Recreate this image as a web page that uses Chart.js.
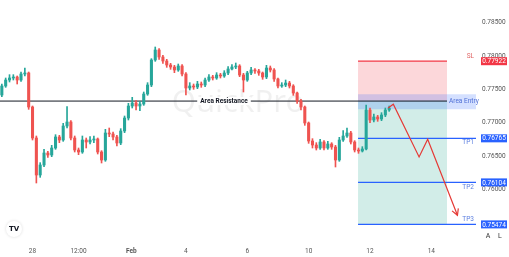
<!DOCTYPE html>
<html>
<head>
<meta charset="utf-8">
<script src="https://cdn.jsdelivr.net/npm/chart.js@4.4.0/dist/chart.umd.min.js"></script>
<style>
    html, body { margin: 0; padding: 0; background: #fff; }
    canvas { display: block; }
</style>
</head>
<body>
<canvas id="chart" width="509" height="257"></canvas>
<script>
// Time axis: days (8 candles per day), tick labels as on the original
const candleStep = 0.125;
const xTickValues = [1, 2.5, 4.22, 6, 8, 10, 12, 14];
const xTickLabels = ['28', '12:00', 'Feb', '4', '6', '10', '12', '14'];

// Candles
const firstOpen = 0.77415;
const closes = [
    0.77550, 0.77640, 0.77670, 0.77685, 0.77640, 0.77730, 0.77745, 0.77235, 0.76770, 0.76215,
    0.76365, 0.76545, 0.76515, 0.76620, 0.76785, 0.76740, 0.76950, 0.77010, 0.76770, 0.76590,
    0.76560, 0.76740, 0.76710, 0.76740, 0.76755, 0.76560, 0.76440, 0.76845, 0.76830, 0.76785,
    0.76695, 0.76875, 0.77070, 0.77250, 0.77295, 0.77250, 0.77280, 0.77430, 0.77565, 0.77940,
    0.78090, 0.77985, 0.77925, 0.77865, 0.77835, 0.77790, 0.77850, 0.77730, 0.77520, 0.77550,
    0.77535, 0.77580, 0.77565, 0.77640, 0.77685, 0.77670, 0.77715, 0.77700, 0.77745, 0.77805,
    0.77835, 0.77850, 0.77715, 0.77640, 0.77745, 0.77790, 0.77775, 0.77745, 0.77685, 0.77820,
    0.77790, 0.77655, 0.77550, 0.77565, 0.77595, 0.77550, 0.77445, 0.77325, 0.77235, 0.76995,
    0.76725, 0.76665, 0.76620, 0.76710, 0.76620, 0.76680, 0.76635, 0.76440, 0.76740, 0.76800,
    0.76845, 0.76710, 0.76590, 0.76575, 0.76605, 0.77190, 0.77040, 0.77085, 0.77055, 0.77115,
    0.77190, 0.77220
];
const highs = [
    0.77580, 0.77670, 0.77720, 0.77720, 0.77700, 0.77760, 0.77820, 0.77760, 0.77250, 0.76800,
    0.76400, 0.76600, 0.76570, 0.76660, 0.76820, 0.76810, 0.76990, 0.77240, 0.77030, 0.76800,
    0.76620, 0.76800, 0.76770, 0.76790, 0.76800, 0.76770, 0.76580, 0.76900, 0.76920, 0.76860,
    0.76810, 0.76910, 0.77100, 0.77290, 0.77380, 0.77330, 0.77320, 0.77460, 0.77600, 0.77960,
    0.78135, 0.78110, 0.78010, 0.77950, 0.77890, 0.77860, 0.77880, 0.77870, 0.77750, 0.77600,
    0.77580, 0.77620, 0.77610, 0.77670, 0.77720, 0.77710, 0.77750, 0.77740, 0.77780, 0.77840,
    0.77870, 0.77895, 0.77870, 0.77740, 0.77770, 0.77830, 0.77810, 0.77800, 0.77760, 0.77860,
    0.77850, 0.77810, 0.77670, 0.77600, 0.77640, 0.77620, 0.77570, 0.77460, 0.77350, 0.77250,
    0.77010, 0.76760, 0.76700, 0.76750, 0.76730, 0.76720, 0.76700, 0.76660, 0.76780, 0.76880,
    0.76920, 0.76870, 0.76730, 0.76620, 0.76640, 0.77265, 0.77220, 0.77130, 0.77110, 0.77150,
    0.77220, 0.77250
];
const lows = [
    0.77390, 0.77530, 0.77610, 0.77640, 0.77580, 0.77620, 0.77700, 0.77200, 0.76740, 0.76095,
    0.76180, 0.76340, 0.76480, 0.76490, 0.76600, 0.76700, 0.76720, 0.76920, 0.76740, 0.76560,
    0.76520, 0.76540, 0.76620, 0.76680, 0.76700, 0.76530, 0.76395, 0.76420, 0.76790, 0.76740,
    0.76650, 0.76670, 0.76850, 0.77040, 0.77220, 0.77190, 0.77180, 0.77260, 0.77410, 0.77540,
    0.77920, 0.77950, 0.77890, 0.77830, 0.77800, 0.77750, 0.77770, 0.77700, 0.77415, 0.77490,
    0.77500, 0.77510, 0.77530, 0.77540, 0.77620, 0.77640, 0.77650, 0.77670, 0.77680, 0.77720,
    0.77790, 0.77810, 0.77690, 0.77460, 0.77620, 0.77720, 0.77740, 0.77710, 0.77650, 0.77660,
    0.77760, 0.77620, 0.77520, 0.77530, 0.77540, 0.77520, 0.77410, 0.77290, 0.77190, 0.76960,
    0.76690, 0.76620, 0.76590, 0.76600, 0.76590, 0.76600, 0.76600, 0.76335, 0.76420, 0.76720,
    0.76780, 0.76680, 0.76560, 0.76540, 0.76560, 0.76590, 0.77000, 0.77010, 0.77020, 0.77030,
    0.77090, 0.77170
];

// Trade setup levels
const resistancePrice = 0.77324;
const entryPrice = 0.77330;
const entryTop = 0.77425;
const entryBottom = 0.77200;
const slPrice = 0.77922;
const tpPrices = [0.76765, 0.76104, 0.75474];
const tpNames = ['TP1', 'TP2', 'TP3'];
const zoneStart = 11.61;
const zoneEnd = 14.51;

// Projected path (red arrow)
const projX = [12.59, 12.76, 13.60, 13.88, 14.85];
const projY = [0.77220, 0.77276, 0.76485, 0.76751, 0.75610];

const X_MIN = -0.06, X_MAX = 15.455;
const Y_MIN = 0.75195, Y_MAX = 0.7884;
const UP = '#26a69a', DOWN = '#ef5350', BLUE = '#2962ff';

const opens = [firstOpen, ...closes.slice(0, -1)];
const candleColors = closes.map((c, i) => c >= opens[i] ? UP : DOWN);
const wickData = closes.map((c, i) => ({ x: i * candleStep, y: [lows[i], highs[i]] }));
const bodyData = closes.map((c, i) => ({ x: i * candleStep, y: [opens[i], c] }));
const tagPrices = [slPrice, ...tpPrices];

function hLine(price, x0, x1) {
    return [{ x: x0, y: price }, { x: x1, y: price }];
}

const lineBase = { type: 'line', pointRadius: 0, tension: 0 };

const datasets = [
    // stop-loss zone
    { ...lineBase, data: hLine(slPrice, zoneStart, zoneEnd), borderColor: '#f23645', borderWidth: 1.2,
      backgroundColor: 'rgba(242, 54, 69, 0.2)', fill: { value: entryPrice }, order: 12 },
    // target zone
    { ...lineBase, data: hLine(entryPrice, zoneStart, zoneEnd), borderColor: 'rgba(0,0,0,0)', borderWidth: 1,
      backgroundColor: 'rgba(8, 153, 129, 0.18)', fill: { value: tpPrices[2] }, order: 11 },
    // entry box
    { ...lineBase, data: hLine(entryTop, zoneStart, X_MAX), borderColor: 'rgba(0,0,0,0)', borderWidth: 1,
      backgroundColor: 'rgba(41, 98, 255, 0.2)', fill: { value: entryBottom }, order: 10 },
    // resistance
    { ...lineBase, data: hLine(resistancePrice, X_MIN, zoneEnd), borderColor: '#131722', borderWidth: 1, fill: false, order: 9 },
    ...tpPrices.map(p => ({ ...lineBase, data: hLine(p, zoneStart, X_MAX), borderColor: BLUE, borderWidth: 1.2, fill: false, order: 8 })),
    // candles
    { type: 'bar', data: wickData, backgroundColor: candleColors, barThickness: 1, grouped: false, order: 3 },
    { type: 'bar', data: bodyData, backgroundColor: candleColors, barThickness: 2.4, minBarLength: 1, grouped: false, order: 2 },
    // projection
    { ...lineBase, data: projX.map((x, i) => ({ x: x, y: projY[i] })), borderColor: '#e53935', borderWidth: 1.2, fill: false, order: 1 }
];
const projIndex = datasets.length - 1;

const overlay = {
    id: 'overlay',
    beforeDatasetsDraw(chart) {
        const ctx = chart.ctx;
        ctx.save();
        ctx.fillStyle = 'rgba(0, 0, 0, 0.06)';
        ctx.font = '31px "Noto Sans"';
        ctx.textAlign = 'center';
        ctx.textBaseline = 'middle';
        ctx.fillText('QuickPro', 238, 103);
        ctx.restore();
    },
    afterDatasetsDraw(chart) {
        const ctx = chart.ctx, xs = chart.scales.x, ys = chart.scales.y;
        ctx.save();
        // resistance label
        const ry = ys.getPixelForValue(resistancePrice);
        ctx.font = 'bold 6.5px Roboto';
        ctx.textBaseline = 'middle';
        ctx.textAlign = 'center';
        const lbl = 'Area Resistance';
        const w = ctx.measureText(lbl).width;
        ctx.fillStyle = '#fff';
        ctx.fillRect(224 - w / 2 - 3, ry - 4, w + 6, 8);
        ctx.fillStyle = '#131722';
        ctx.fillText(lbl, 224, ry);

        // zone labels
        ctx.font = '6.5px Roboto';
        ctx.textAlign = 'left';
        ctx.fillStyle = '#4f6fd6';
        ctx.fillText('Area Entry', xs.getPixelForValue(zoneEnd) + 2, ys.getPixelForValue((entryTop + entryBottom) / 2));
        ctx.textAlign = 'right';
        const rx = xs.right - 2;
        ctx.fillStyle = '#e06666';
        ctx.fillText('SL', rx, ys.getPixelForValue(slPrice) - 5);
        ctx.fillStyle = '#5b7fe0';
        const offs = [4, 5, -5];
        tpPrices.forEach((p, i) => ctx.fillText(tpNames[i], rx, ys.getPixelForValue(p) + offs[i]));

        // arrow head
        const pts = chart.getDatasetMeta(projIndex).data;
        const p1 = pts[pts.length - 2], p2 = pts[pts.length - 1];
        const ang = Math.atan2(p2.y - p1.y, p2.x - p1.x);
        ctx.strokeStyle = '#e53935';
        ctx.lineWidth = 1.2;
        ctx.beginPath();
        ctx.moveTo(p2.x - 7 * Math.cos(ang - 0.5), p2.y - 7 * Math.sin(ang - 0.5));
        ctx.lineTo(p2.x, p2.y);
        ctx.lineTo(p2.x - 7 * Math.cos(ang + 0.5), p2.y - 7 * Math.sin(ang + 0.5));
        ctx.stroke();
        ctx.restore();
    },
    afterDraw(chart) {
        const ctx = chart.ctx, ys = chart.scales.y;
        ctx.save();
        // price tags on the axis
        const tag = (price, color) => {
            const y = ys.getPixelForValue(price);
            ctx.fillStyle = color;
            ctx.fillRect(481, y - 4, 26, 8);
            ctx.fillStyle = '#fff';
            ctx.font = '6.5px Roboto';
            ctx.textAlign = 'center';
            ctx.textBaseline = 'middle';
            ctx.fillText(price.toFixed(5), 494, y + 0.5);
        };
        tag(slPrice, '#f23645');
        tpPrices.forEach(p => tag(p, BLUE));

        ctx.fillStyle = '#333';
        ctx.font = '7px Roboto';
        ctx.textAlign = 'center';
        ctx.textBaseline = 'middle';
        ctx.fillText('A', 488, 236);
        ctx.fillText('L', 500, 236);

        // TradingView logo
        ctx.shadowColor = 'rgba(0,0,0,0.15)';
        ctx.shadowBlur = 3;
        ctx.fillStyle = '#fff';
        ctx.beginPath();
        ctx.arc(14, 229, 8, 0, Math.PI * 2);
        ctx.fill();
        ctx.shadowBlur = 0;
        ctx.fillStyle = '#131722';
        ctx.font = 'bold 7px "DejaVu Sans"';
        ctx.fillText('TV', 14, 229.5);
        ctx.restore();
    }
};

new Chart(document.getElementById('chart'), {
    type: 'bar',
    data: { datasets: datasets },
    options: {
        responsive: false,
        animation: false,
        devicePixelRatio: 1,
        layout: { padding: 0 },
        plugins: { legend: { display: false }, tooltip: { enabled: false } },
        scales: {
            x: {
                type: 'linear',
                min: X_MIN,
                max: X_MAX,
                offset: false,
                grid: { display: false, drawTicks: false },
                border: { display: false },
                afterBuildTicks: axis => { axis.ticks = xTickValues.map(v => ({ value: v })); },
                afterFit: axis => {
                    axis.height = 14;
                    axis.paddingLeft = 0;
                    axis.paddingRight = 0;
                },
                ticks: {
                    autoSkip: false,
                    maxRotation: 0,
                    padding: 4,
                    color: '#555',
                    font: ctx => ({ family: 'Roboto', size: 6.5, weight: ctx.index === 2 ? 'bold' : 'normal' }),
                    callback: (v, i) => xTickLabels[i]
                }
            },
            y: {
                position: 'right',
                min: Y_MIN,
                max: Y_MAX,
                grid: { display: false, drawTicks: false },
                border: { display: false },
                afterFit: axis => {
                    axis.width = 33;
                    axis.paddingTop = 0;
                    axis.paddingBottom = 0;
                },
                ticks: {
                    stepSize: 0.005,
                    includeBounds: false,
                    padding: 6,
                    color: '#555',
                    font: { family: 'Roboto', size: 6.5 },
                    // labels sitting under a price tag are hidden, as on the original
                    callback: v => tagPrices.some(p => Math.abs(p - v) < 0.0006) ? '' : v.toFixed(5)
                }
            }
        }
    },
    plugins: [overlay]
});
</script>
</body>
</html>
